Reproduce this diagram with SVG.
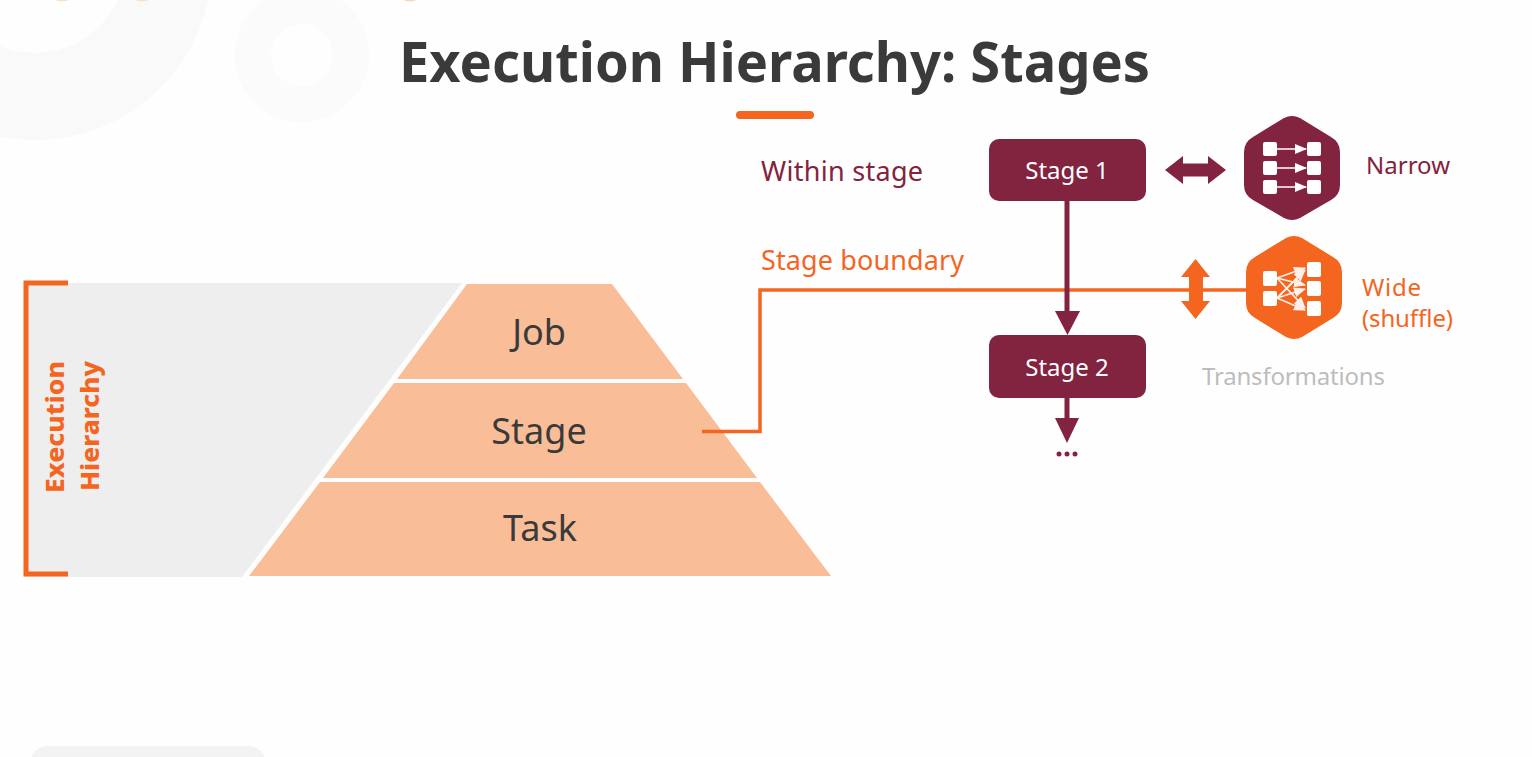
<svg xmlns="http://www.w3.org/2000/svg" width="1532" height="757" viewBox="0 0 1532 757">
<style>
.s{font-family:"Noto Sans","Open Sans","Liberation Sans",sans-serif}
.o{fill:#f4651f}.m{fill:#82233f}
.lbl{font-size:27px}
.py{font-size:36px;fill:#3a3a3a;text-anchor:middle}
.st{font-size:24px;fill:#fff;text-anchor:middle}
.tier{fill:#f9bd98}
.box{fill:#82233f}
.w{fill:#fff}
</style>
<defs>
<marker id="ah" markerUnits="userSpaceOnUse" markerWidth="12" markerHeight="10" refX="11" refY="5" orient="auto"><path d="M0 0L12 5L0 10Z" fill="#fff"/></marker>
</defs>
<rect width="1532" height="757" fill="#fffefe"/>
<g id="background">
<path d="M0 46A91.500 91.500 0 0 0 118 0H208A177 177 0 0 1 0 136.500Z" fill="#f9f9f9"/>
<circle cx="302" cy="55" r="49" fill="none" stroke="#fbfbfb" stroke-width="36"/>
<rect x="30" y="746" width="236" height="40" rx="18" fill="#f3f3f3"/>
<ellipse cx="62" cy="0" rx="6" ry="1.500" fill="#fbe0c8"/><ellipse cx="142" cy="0" rx="6" ry="1.500" fill="#fbe0c8"/><ellipse cx="410" cy="0" rx="6" ry="1.500" fill="#fbd5b5"/>
</g>
<g id="title">
<text class="s" x="399" y="82" font-size="56" font-weight="700" fill="#3a3a3a" textLength="751" lengthAdjust="spacingAndGlyphs">Execution Hierarchy: Stages</text>
<rect x="736" y="111" width="78" height="8" rx="4" fill="#f4651f"/>
</g>
<g id="hierarchy-band">
<path d="M24 283H462L242 577H24Z" fill="#eeeeee"/>
<path d="M68 283H26V574H68" fill="none" stroke="#f4651f" stroke-width="5"/>
<text class="s o" transform="translate(64 493) rotate(-90)" font-size="25" font-weight="800" textLength="132" lengthAdjust="spacingAndGlyphs">Execution</text>
<text class="s o" transform="translate(99 491) rotate(-90)" font-size="25" font-weight="800" textLength="130" lengthAdjust="spacingAndGlyphs">Hierarchy</text>
</g>
<g id="job"><path class="tier" d="M467 284H612L683 379H397Z"/><text class="s py" x="539" y="345">Job</text></g>
<g id="stage"><path class="tier" d="M394 383H686L757 478H323Z"/><text class="s py" x="539" y="444">Stage</text></g>
<g id="task"><path class="tier" d="M320 482H760L831 576H249Z"/><text class="s py" x="540" y="541">Task</text></g>
<g id="connectors">
<path d="M702 431.500H760V290H1246" fill="none" stroke="#f4651f" stroke-width="3.500"/>
<path d="M1067 200V312" stroke="#82233f" stroke-width="5" fill="none"/>
<path class="m" d="M1055 311H1080L1067.500 335Z"/>
<path d="M1067 397V420" stroke="#82233f" stroke-width="5" fill="none"/>
<path class="m" d="M1055 418H1079L1067 443Z"/>
<path class="m" d="M1165 170L1183 156V163.500H1208V156L1226 170L1208 184V176.500H1183V184Z"/>
<path class="o" d="M1195.500 259L1210 277H1203V301H1210L1195.500 319L1181 301H1189V277H1181Z"/>
</g>
<g id="stage-1"><rect class="box" x="989" y="139" width="157" height="62" rx="10"/><text class="s st" x="1067" y="179">Stage 1</text></g>
<g id="stage-2"><rect class="box" x="989" y="335" width="157" height="63" rx="10"/><text class="s st" x="1067" y="376">Stage 2</text></g>
<g id="ellipsis"><circle class="m" cx="1059" cy="454" r="2.500"/><circle class="m" cx="1067" cy="454" r="2.500"/><circle class="m" cx="1075" cy="454" r="2.500"/></g>
<g id="within-stage"><text class="s lbl m" x="761" y="181" textLength="162">Within stage</text></g>
<g id="stage-boundary"><text class="s lbl o" x="761" y="270" textLength="203">Stage boundary</text></g>
<g id="narrow">
<path class="m" d="M1292 116Q1296 116 1300 118L1331 137Q1340 142 1340 152V185Q1340 195 1331 200L1300 218Q1292 222 1284 218L1253 200Q1244 195 1244 185V152Q1244 142 1253 137L1284 118Q1288 116 1292 116Z"/>
<g class="w"><rect x="1263" y="142" width="14" height="14" rx="2"/><rect x="1263" y="161" width="14" height="14" rx="2"/><rect x="1263" y="180" width="14" height="14" rx="2"/><rect x="1307" y="142" width="14" height="14" rx="2"/><rect x="1307" y="161" width="14" height="14" rx="2"/><rect x="1307" y="180" width="14" height="14" rx="2"/></g>
<g stroke="#fff" stroke-width="1.500"><path d="M1277 149H1306" marker-end="url(#ah)"/><path d="M1277 168H1306" marker-end="url(#ah)"/><path d="M1277 187H1306" marker-end="url(#ah)"/></g>
<text class="s m" x="1366" y="174" font-size="24" textLength="84">Narrow</text>
</g>
<g id="wide">
<path class="o" d="M1294 236Q1298 236 1302 238L1333 257Q1342 262 1342 272V303Q1342 313 1333 318L1302 337Q1294 341 1286 337L1255 318Q1246 313 1246 303V272Q1246 262 1255 257L1286 238Q1290 236 1294 236Z"/>
<g class="w"><rect x="1263" y="271" width="14" height="15" rx="2"/><rect x="1263" y="291" width="14" height="15" rx="2"/><rect x="1307" y="262" width="14" height="15" rx="2"/><rect x="1307" y="281" width="14" height="15" rx="2"/><rect x="1307" y="301" width="14" height="15" rx="2"/></g>
<g stroke="#fff" stroke-width="1.800" opacity="0.9"><path d="M1277 278L1305 268" marker-end="url(#ah)"/><path d="M1277 278L1305 285" marker-end="url(#ah)"/><path d="M1277 278L1305 308" marker-end="url(#ah)"/><path d="M1277 298L1305 270" marker-end="url(#ah)"/><path d="M1277 298L1305 289" marker-end="url(#ah)"/><path d="M1277 298L1305 310" marker-end="url(#ah)"/></g>
<text class="s o" x="1362" y="296" font-size="24" textLength="59">Wide</text>
<text class="s o" x="1362" y="327" font-size="24" textLength="91">(shuffle)</text>
</g>
<g id="transformations"><text class="s" x="1202" y="385" font-size="24" fill="#bdbdbd" textLength="183">Transformations</text></g>
</svg>
